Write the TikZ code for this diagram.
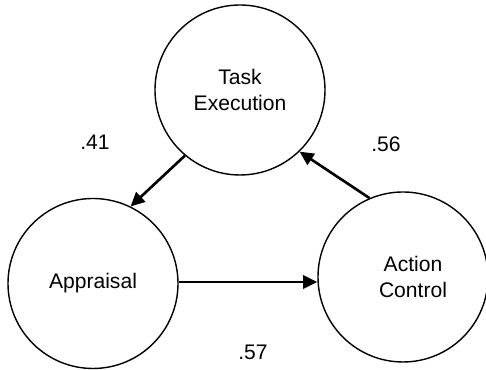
\documentclass[tikz,border=0pt]{standalone}
\usepackage{fontspec}
\setmainfont{Liberation Sans}
\usetikzlibrary{arrows.meta}
\tikzset{
    construct/.style={circle, draw, line width=0.8pt, minimum size=3.4cm,
                      inner sep=0pt, align=center},
    path/.style={-{Triangle[length=8pt, width=7.5pt]}, line width=1.5pt},
    coef/.style={font=\fontsize{12}{14.4}\selectfont},
}

\begin{document}
\begin{tikzpicture}[font=\fontsize{12}{14.4}\selectfont]

    \useasboundingbox (0,0) rectangle (9.72,7.4);
    \node[construct] (task) at (4.8,5.6) {Task\\Execution};
    \node[construct] (appr) at (1.86,1.73) {Appraisal};
    \node[construct] (act) at (8.06,1.86) {};
    \node[align=center] (acttext) at (8.26,1.86) {Action\\Control};
    \draw[path] (task.230) -- (appr.64.7);
    \draw[path] (act.113.8) -- (task.-46.9);
    \draw[path] (appr.1.7) -- (appr.1.7 -| act.west);
    \node[coef] (c41) at (1.9,4.56) {.41};
    \node[coef] (c56) at (7.72,4.52) {.56};
    \node[coef] (c57) at (5.06,0.36) {.57};

\end{tikzpicture}
\end{document}
